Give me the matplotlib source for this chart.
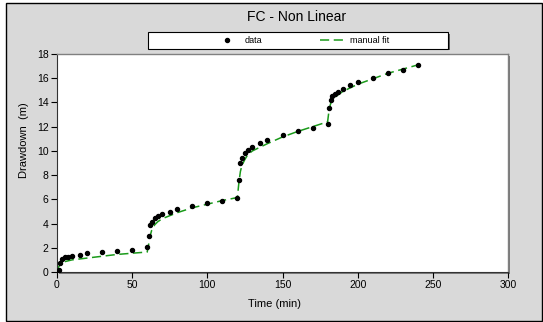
import matplotlib
matplotlib.use("Agg")
import matplotlib.pyplot as plt
from matplotlib.patches import Rectangle

plt.rcParams['font.family'] = ['Liberation Sans', 'DejaVu Sans']

data_t = [0, 1, 2, 3, 5, 7, 10, 15, 20, 30, 40, 50, 60, 61, 62, 63, 65, 67, 70, 75, 80, 90,
          100, 110, 120, 121, 122, 123, 125, 127, 130, 135, 140, 150, 160, 170, 180, 181, 182,
          183, 185, 187, 190, 195, 200, 210, 220, 230, 240]
data_s = [0.05, 0.15, 0.75, 1.1, 1.2, 1.2, 1.3, 1.4, 1.55, 1.65, 1.75, 1.8, 2.05, 3.0, 3.85, 4.15,
          4.45, 4.6, 4.8, 4.95, 5.2, 5.45, 5.7, 5.85, 6.1, 7.6, 9.0, 9.45, 9.8, 10.1, 10.3, 10.65,
          10.9, 11.35, 11.65, 11.9, 12.2, 13.55, 14.2, 14.5, 14.7, 14.9, 15.15, 15.4, 15.65, 16.0,
          16.4, 16.7, 17.1]

fit_t = [0, 1, 2, 3, 5, 10, 20, 30, 40, 50, 60, 61, 62, 63, 65, 67, 70, 80, 90, 100, 110, 120,
         121, 122, 123, 125, 127, 130, 140, 150, 160, 170, 180, 181, 182, 183, 185, 190, 200, 210,
         220, 230, 240]
fit_s = [0.0, 0.4, 0.6, 0.72, 0.85, 1.0, 1.15, 1.3, 1.45, 1.55, 1.65, 2.3, 3.0, 3.45, 3.9, 4.15,
         4.4, 4.9, 5.3, 5.6, 5.9, 6.15, 7.4, 8.3, 8.8, 9.3, 9.7, 10.0, 10.6, 11.15, 11.6, 12.0, 12.4,
         13.4, 13.9, 14.15, 14.45, 14.9, 15.5, 15.95, 16.4, 16.75, 17.1]

x_ticks = [0, 50, 100, 150, 200, 250, 300]
y_ticks = [0, 2, 4, 6, 8, 10, 12, 14, 16, 18]

W, H = 543, 322
fig = plt.figure(figsize=(W / 100, H / 100), dpi=100)
fig.patch.set_facecolor('white')
bg = '#d9d9d9'

def px_rect(x0, y0, x1, y1, **kw):
    return Rectangle((x0 / W, 1 - y1 / H), (x1 - x0) / W, (y1 - y0) / H,
                     transform=fig.transFigure, **kw)

fig.patches.append(px_rect(6, 3, 542, 321, facecolor=bg, edgecolor='black', linewidth=1.0, zorder=0))
# legend box (shadow + box)
fig.patches.append(px_rect(149.5, 33.5, 449.5, 50, facecolor='#606060', edgecolor='none', zorder=1))
fig.patches.append(px_rect(148, 32, 448, 48.5, facecolor='white', edgecolor='black', linewidth=0.8, zorder=1))
# plot area shadow
fig.patches.append(px_rect(58.5, 55.5, 509.5, 273.5, facecolor='#7a7a7a', edgecolor='none', zorder=1))

left, right, top, bottom = 57, 508, 54, 272
ax = fig.add_axes([left / W, 1 - bottom / H, (right - left) / W, (bottom - top) / H])
ax.set_zorder(3)
ax.set_facecolor('white')
ax.plot(fit_t, fit_s, linestyle=(0, (6, 3)), color='#1a9a1a', linewidth=1.1, label='manual fit', zorder=2)
ax.plot(data_t, data_s, 'o', color='black', markersize=2.9, label='data', zorder=3)

ax.set_xlim(0, 300)
ax.set_ylim(0, 18)
ax.set_xticks(x_ticks)
ax.set_yticks(y_ticks)
ax.tick_params(direction='out', length=4, width=0.8, labelsize=7.5, colors='black', pad=2)
for s in ['left', 'bottom']:
    ax.spines[s].set_color('#333333')
    ax.spines[s].set_linewidth(0.8)
for s in ['right', 'top']:
    ax.spines[s].set_color('#808080')
    ax.spines[s].set_linewidth(1.0)
ax.set_xlabel('Time (min)', fontsize=8, labelpad=5)
ax.set_ylabel('Drawdown  (m)', fontsize=8, labelpad=6)
ax.xaxis.set_label_coords((274 - left) / (right - left), -0.125)
ax.yaxis.set_label_coords(-0.062, (bottom - 140) / (bottom - top))

fig.text(297 / W, 1 - 17 / H, 'FC - Non Linear', ha='center', va='center', fontsize=10, zorder=5)

handles, labels = ax.get_legend_handles_labels()
leg = fig.legend([handles[1], handles[0]], [labels[1], labels[0]], ncol=2,
                 loc='center', bbox_to_anchor=(302 / W, 1 - 40.5 / H),
                 fontsize=6.5, frameon=False, handlelength=2.8,
                 columnspacing=6.4, borderpad=0.2, handletextpad=0.55)
leg.set_zorder(6)

fig.savefig('out.png', dpi=100, facecolor=fig.get_facecolor())
